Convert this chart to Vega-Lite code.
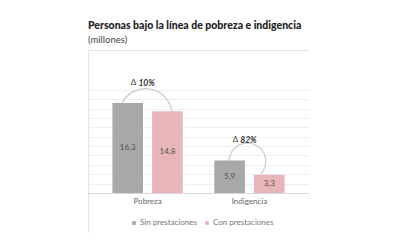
{
  "$schema": "https://vega.github.io/schema/vega-lite/v6.json",
  "width": 221,
  "height": 183,
  "padding": {"left": 88, "top": 21, "right": 0, "bottom": 0},
  "title": {
    "text": "Personas bajo la línea de pobreza e indigencia",
    "subtitle": "(millones)",
    "anchor": "start",
    "font": "Lato",
    "fontSize": 10.5,
    "fontWeight": 900,
    "color": "#222222",
    "subtitleFont": "Lato",
    "subtitleFontSize": 9.5,
    "subtitleColor": "#444444",
    "subtitlePadding": 3,
    "offset": 6
  },
  "datasets": {
    "barras": [
      {"grupo": "Pobreza", "serie": "Sin prestaciones", "valor": 16.3},
      {"grupo": "Pobreza", "serie": "Con prestaciones", "valor": 14.8},
      {"grupo": "Indigencia", "serie": "Sin prestaciones", "valor": 5.9},
      {"grupo": "Indigencia", "serie": "Con prestaciones", "valor": 3.3}
    ],
    "deltas": [
      {"grupo": "Pobreza", "delta": "10%"},
      {"grupo": "Indigencia", "delta": "82%"}
    ]
  },
  "data": {"name": "barras"},
  "encoding": {
    "x": {
      "field": "grupo",
      "type": "nominal",
      "sort": ["Pobreza", "Indigencia"],
      "scale": {"paddingInner": 0.31, "paddingOuter": 0.24},
      "axis": {
        "title": null,
        "orient": "bottom",
        "offset": -40,
        "labelAngle": 0,
        "ticks": false,
        "domainColor": "#d9d9d9",
        "labelColor": "#666666",
        "labelFont": "Lato",
        "labelFontSize": 8,
        "labelPadding": 4,
        "grid": false
      }
    },
    "y": {
      "field": "valor",
      "type": "quantitative",
      "scale": {"domain": [-7.25, 25.9], "nice": false, "zero": false},
      "axis": {
        "title": null,
        "labels": false,
        "ticks": false,
        "domain": false,
        "grid": true,
        "gridColor": "#efefef",
        "values": [1.7, 3.4, 5.1, 6.8, 8.5, 10.2, 11.9, 13.6, 15.3, 17.0, 18.7]
      }
    }
  },
  "layer": [
    {
      "mark": {"type": "bar"},
      "encoding": {
        "xOffset": {"field": "serie", "type": "nominal", "sort": ["Sin prestaciones", "Con prestaciones"], "scale": {"paddingInner": 0.23}},
        "y2": {"datum": 0},
        "color": {
          "field": "serie",
          "type": "nominal",
          "sort": ["Sin prestaciones", "Con prestaciones"],
          "scale": {"domain": ["Sin prestaciones", "Con prestaciones"], "range": ["#a8a8a8", "#e8b5b8"]},
          "legend": {
            "title": null,
            "orient": "none",
            "legendX": 42,
            "legendY": 169,
            "direction": "horizontal",
            "symbolType": "square",
            "symbolSize": 14,
            "labelFont": "Lato",
            "labelFontSize": 8,
            "labelColor": "#777777",
            "labelOffset": 2,
            "columnPadding": 6
          }
        }
      }
    },
    {
      "transform": [{"calculate": "datum.valor / 2", "as": "medio"}],
      "mark": {"type": "text", "font": "Lato", "fontSize": 8, "color": "#555555", "baseline": "middle"},
      "encoding": {
        "xOffset": {"field": "serie", "type": "nominal", "sort": ["Sin prestaciones", "Con prestaciones"]},
        "y": {"field": "medio", "type": "quantitative"},
        "text": {"field": "valor", "type": "quantitative", "format": ".1f"}
      }
    },
    {
      "transform": [{"filter": "datum.serie == 'Sin prestaciones' && datum.grupo == 'Pobreza'"}],
      "mark": {"type": "arc", "radius": 27, "radius2": 25.8, "theta": -1.107, "theta2": 1.459, "color": "#c9c9c9", "xOffset": -2, "yOffset": 12},
      "encoding": {}
    },
    {
      "transform": [{"filter": "datum.serie == 'Sin prestaciones' && datum.grupo == 'Indigencia'"}],
      "mark": {"type": "arc", "radius": 19, "radius2": 17.8, "theta": -1.518, "theta2": 2.323, "color": "#c9c9c9", "xOffset": -2, "yOffset": 1},
      "encoding": {}
    },
    {
      "transform": [
        {"filter": "datum.serie == 'Sin prestaciones'"},
        {"lookup": "grupo", "from": {"data": {"name": "deltas"}, "key": "grupo", "fields": ["delta"]}}
      ],
      "mark": {"type": "text", "font": "Lato", "fontSize": 8.5, "fontWeight": "bold", "fontStyle": "italic", "color": "#333333", "baseline": "middle", "dx": -1, "dy": -20},
      "encoding": {
        "text": {"field": "delta", "type": "nominal"}
      }
    },
    {
      "transform": [{"filter": "datum.serie == 'Sin prestaciones'"}],
      "mark": {"type": "text", "font": "Lato", "fontSize": 8, "color": "#333333", "baseline": "middle", "dx": -14, "dy": -20, "text": "Δ"},
      "encoding": {}
    }
  ],
  "config": {
    "view": {"stroke": "#e3e3e3", "strokeWidth": 1},
    "locale": {"number": {"decimal": ",", "thousands": ".", "grouping": [3], "currency": ["$", ""]}}
  }
}
